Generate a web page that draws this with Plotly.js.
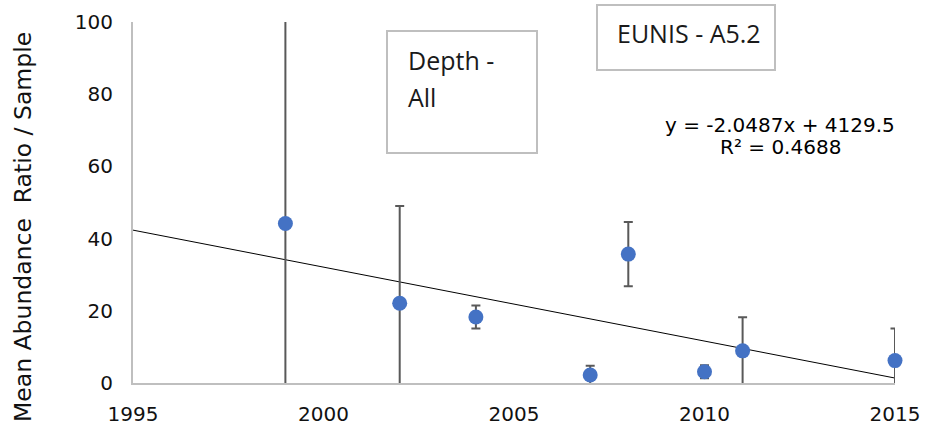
<!DOCTYPE html>
<html>
<head>
<meta charset="utf-8">
<script src="https://cdn.plot.ly/plotly-3.0.1.min.js"></script>
<style>
  html, body { margin: 0; padding: 0; background: #ffffff; }
  #chart { width: 928px; height: 430px; }
</style>
</head>
<body>
<div id="chart"></div>
<script>
// Sampling years and mean abundance ratio per sample
const years = [1999, 2002, 2004, 2007, 2008, 2010, 2011, 2015];
const meanRatio = [44.2, 22.1, 18.3, 2.2, 35.7, 3.1, 8.9, 6.2];
// Symmetric error bar extent (clipped to the plot area, as on the axes)
const errExtent = [60, 26.9, 3.2, 2.6, 8.9, 1.8, 9.3, 8.9];

// Linear trend: y = slope * x + intercept
const slope = -2.0487;
const intercept = 4129.5;
const rSquared = 0.4688;
const trendYears = [1995, 2015];
const trendValues = trendYears.map(x => slope * x + intercept);

// Axis ticks
const xTicks = [1995, 2000, 2005, 2010, 2015];
const yTicks = [0, 20, 40, 60, 80, 100];

// Plot area geometry (pixels) used to place boxes and labels
const W = 928, H = 430;
const M = { l: 133, r: 33, t: 22, b: 47 };
const PW = W - M.l - M.r, PH = H - M.t - M.b;
const px = x => (x - M.l) / PW;
const py = y => (H - M.b - y) / PH;

const SANS = '"DejaVu Sans", Verdana, sans-serif';
const BOX = '#BFBFBF';
const BOX_FONT = { family: '"Open Sans", sans-serif', size: 25, color: '#1a1a1a' };
const EQ_FONT = { family: SANS, size: 20, color: '#000000' };

const traces = [
  {
    x: trendYears, y: trendValues, type: 'scatter', mode: 'lines',
    line: { color: '#000000', width: 1 }, hoverinfo: 'skip', showlegend: false
  },
  // error bars, clipped to the plot area
  {
    x: years, y: meanRatio, type: 'scatter', mode: 'markers',
    cliponaxis: true,
    marker: { color: 'rgba(0,0,0,0)', size: 1 },
    error_y: {
      type: 'data', symmetric: true, array: errExtent,
      color: '#595959', thickness: 2, width: 4.5
    },
    showlegend: false
  },
  // mean markers, drawn whole even at the plot edge
  {
    x: years, y: meanRatio, type: 'scatter', mode: 'markers',
    cliponaxis: false,
    marker: { color: '#4472C4', size: 15 },
    showlegend: false
  }
];

const layout = {
  width: W, height: H,
  margin: M,
  paper_bgcolor: '#ffffff', plot_bgcolor: '#ffffff',
  font: { family: SANS, color: '#000000' },
  showlegend: false,
  xaxis: {
    range: [1995, 2015], tickvals: xTicks, ticktext: xTicks.map(String),
    showgrid: false, zeroline: false, showline: true, linecolor: BOX, linewidth: 2,
    ticks: '', ticklabelstandoff: 12,
    tickfont: { family: SANS, size: 20, color: '#111111' }
  },
  yaxis: {
    range: [0, 100], tickvals: yTicks, ticktext: yTicks.map(String),
    showgrid: false, zeroline: false, showline: true, linecolor: BOX, linewidth: 2,
    ticks: '', ticklabelstandoff: 14,
    tickfont: { family: SANS, size: 20, color: '#111111' }
  },
  shapes: [
    { type: 'rect', xref: 'paper', yref: 'paper',
      x0: px(387), x1: px(537), y0: py(153), y1: py(31),
      line: { color: BOX, width: 2 }, fillcolor: '#ffffff', layer: 'above' },
    { type: 'rect', xref: 'paper', yref: 'paper',
      x0: px(597), x1: px(775), y0: py(70), y1: py(5),
      line: { color: BOX, width: 2 }, fillcolor: '#ffffff', layer: 'above' }
  ],
  annotations: [
    { xref: 'paper', yref: 'paper', x: px(23), y: py(227),
      text: 'Mean Abundance\u00A0 Ratio / Sample', textangle: -90, showarrow: false,
      xanchor: 'center', yanchor: 'middle',
      font: { family: SANS, size: 23.5, color: '#111111' } },
    { xref: 'paper', yref: 'paper', x: px(406), y: py(60),
      text: 'Depth -', showarrow: false, xanchor: 'left', yanchor: 'middle', font: BOX_FONT },
    { xref: 'paper', yref: 'paper', x: px(406), y: py(97),
      text: 'All', showarrow: false, xanchor: 'left', yanchor: 'middle', font: BOX_FONT },
    { xref: 'paper', yref: 'paper', x: px(615), y: py(33),
      text: 'EUNIS - A5.2', showarrow: false, xanchor: 'left', yanchor: 'middle', font: BOX_FONT },
    { xref: 'paper', yref: 'paper', x: px(780), y: py(125),
      text: 'y = ' + slope + 'x + ' + intercept, showarrow: false,
      xanchor: 'center', yanchor: 'middle', font: EQ_FONT },
    { xref: 'paper', yref: 'paper', x: px(780), y: py(147),
      text: 'R² = ' + rSquared, showarrow: false,
      xanchor: 'center', yanchor: 'middle', font: EQ_FONT }
  ]
};

Plotly.newPlot('chart', traces, layout, { staticPlot: true, displayModeBar: false });
</script>
</body>
</html>
